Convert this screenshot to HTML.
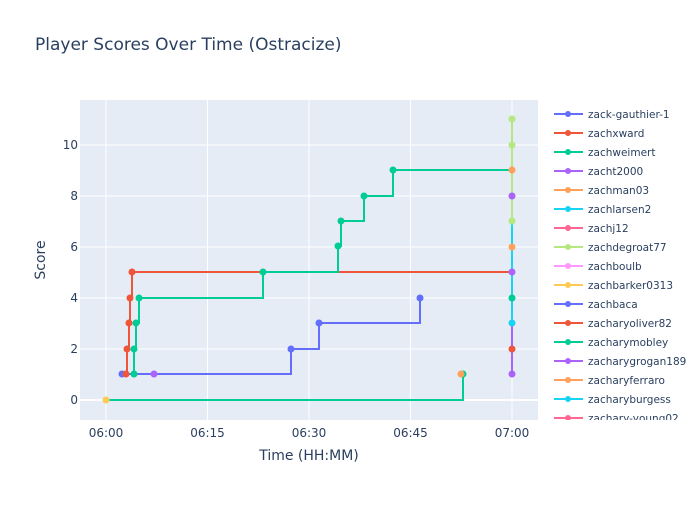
<!DOCTYPE html>
<html><head><meta charset="utf-8"><style>
body{margin:0;background:#fff}
text{font-family:"DejaVu Sans","Liberation Sans",sans-serif;fill:#2a3f5f}
</style></head><body>
<svg width="700" height="500" xmlns="http://www.w3.org/2000/svg">
<rect width="700" height="500" fill="#fff"/>
<rect x="80" y="100" width="458" height="320" fill="#e5ecf6"/>
<g stroke="#fff" stroke-width="1">
<line x1="80" x2="538" y1="400" y2="400" stroke-width="2"/>
<line x1="80" x2="538" y1="349" y2="349"/>
<line x1="80" x2="538" y1="298" y2="298"/>
<line x1="80" x2="538" y1="247" y2="247"/>
<line x1="80" x2="538" y1="196" y2="196"/>
<line x1="80" x2="538" y1="145" y2="145"/>
<line y1="100" y2="420" x1="106" x2="106"/>
<line y1="100" y2="420" x1="207.5" x2="207.5"/>
<line y1="100" y2="420" x1="309" x2="309"/>
<line y1="100" y2="420" x1="410.5" x2="410.5"/>
<line y1="100" y2="420" x1="512" x2="512"/>
</g>
<g font-size="12" text-anchor="end">
<text x="78" y="404">0</text><text x="78" y="353">2</text><text x="78" y="302">4</text>
<text x="78" y="251">6</text><text x="78" y="200">8</text><text x="78" y="149">10</text>
</g>
<g font-size="12" text-anchor="middle">
<text x="106" y="437">06:00</text><text x="207.5" y="437">06:15</text><text x="309" y="437">06:30</text>
<text x="410.5" y="437">06:45</text><text x="512" y="437">07:00</text>
</g>
<text x="309" y="460" font-size="14" text-anchor="middle">Time (HH:MM)</text>
<text x="45" y="260" font-size="14" text-anchor="middle" transform="rotate(-90 45 260)">Score</text>
<text x="35" y="50" font-size="17">Player Scores Over Time (Ostracize)</text>
<g fill="none" stroke-width="2">
<polyline stroke="#00cc96" points="106,400 463,400 463,374"/>
<polyline stroke="#636efa" points="122,374 291,374 291,349 319,349 319,323 420,323 420,298"/>
<polyline stroke="#EF553B" points="126,374 127,374 127,349 129,349 129,323 130,323 130,298 132,298 132,272 512,272"/>
<polyline stroke="#00cc96" points="134,374 134,349 136,349 136,323 139,323 139,298 263,298 263,272 338,272 338,246 341,246 341,221 364,221 364,196 393,196 393,170 512,170"/>
<polyline stroke="#ab63fa" points="512,374 512,272"/>
<polyline stroke="#19d3f3" points="512,323 512,221"/>
<polyline stroke="#B6E880" points="512,221 512,119"/>
</g>
<g>
<circle cx="106" cy="400" r="3.5" fill="#FECB52"/>
<circle cx="122" cy="374" r="3.5" fill="#636efa"/>
<circle cx="126" cy="374" r="3.5" fill="#EF553B"/>
<circle cx="127" cy="349" r="3.5" fill="#EF553B"/>
<circle cx="129" cy="323" r="3.5" fill="#EF553B"/>
<circle cx="130" cy="298" r="3.5" fill="#EF553B"/>
<circle cx="132" cy="272" r="3.5" fill="#EF553B"/>
<circle cx="134" cy="374" r="3.5" fill="#00cc96"/>
<circle cx="134" cy="349" r="3.5" fill="#00cc96"/>
<circle cx="136" cy="323" r="3.5" fill="#00cc96"/>
<circle cx="139" cy="298" r="3.5" fill="#00cc96"/>
<circle cx="154" cy="374" r="3.5" fill="#ab63fa"/>
<circle cx="263" cy="272" r="3.5" fill="#00cc96"/>
<circle cx="338" cy="246" r="3.5" fill="#00cc96"/>
<circle cx="341" cy="221" r="3.5" fill="#00cc96"/>
<circle cx="364" cy="196" r="3.5" fill="#00cc96"/>
<circle cx="393" cy="170" r="3.5" fill="#00cc96"/>
<circle cx="291" cy="349" r="3.5" fill="#636efa"/>
<circle cx="319" cy="323" r="3.5" fill="#636efa"/>
<circle cx="420" cy="298" r="3.5" fill="#636efa"/>
<circle cx="463" cy="374" r="3.5" fill="#00cc96"/>
<circle cx="461" cy="374" r="3.5" fill="#FFA15A"/>
<circle cx="512" cy="374" r="3.5" fill="#ab63fa"/>
<circle cx="512" cy="349" r="3.5" fill="#EF553B"/>
<circle cx="512" cy="323" r="3.5" fill="#19d3f3"/>
<circle cx="512" cy="298" r="3.5" fill="#00cc96"/>
<circle cx="512" cy="272" r="3.5" fill="#ab63fa"/>
<circle cx="512" cy="247" r="3.5" fill="#FFA15A"/>
<circle cx="512" cy="221" r="3.5" fill="#B6E880"/>
<circle cx="512" cy="196" r="3.5" fill="#ab63fa"/>
<circle cx="512" cy="170" r="3.5" fill="#FFA15A"/>
<circle cx="512" cy="145" r="3.5" fill="#B6E880"/>
<circle cx="512" cy="119" r="3.5" fill="#B6E880"/>
</g>
<defs><clipPath id="lg"><rect x="540" y="100" width="160" height="320"/></clipPath></defs>
<g clip-path="url(#lg)" font-size="10.5">
<g stroke-width="2">
<line x1="554" x2="583" y1="114" y2="114" stroke="#636efa"/><circle cx="568" cy="114" r="3" fill="#636efa"/><text x="588" y="118">zack-gauthier-1</text>
<line x1="554" x2="583" y1="133" y2="133" stroke="#EF553B"/><circle cx="568" cy="133" r="3" fill="#EF553B"/><text x="588" y="137">zachxward</text>
<line x1="554" x2="583" y1="152" y2="152" stroke="#00cc96"/><circle cx="568" cy="152" r="3" fill="#00cc96"/><text x="588" y="156">zachweimert</text>
<line x1="554" x2="583" y1="171" y2="171" stroke="#ab63fa"/><circle cx="568" cy="171" r="3" fill="#ab63fa"/><text x="588" y="175">zacht2000</text>
<line x1="554" x2="583" y1="190" y2="190" stroke="#FFA15A"/><circle cx="568" cy="190" r="3" fill="#FFA15A"/><text x="588" y="194">zachman03</text>
<line x1="554" x2="583" y1="209" y2="209" stroke="#19d3f3"/><circle cx="568" cy="209" r="3" fill="#19d3f3"/><text x="588" y="213">zachlarsen2</text>
<line x1="554" x2="583" y1="228" y2="228" stroke="#FF6692"/><circle cx="568" cy="228" r="3" fill="#FF6692"/><text x="588" y="232">zachj12</text>
<line x1="554" x2="583" y1="247" y2="247" stroke="#B6E880"/><circle cx="568" cy="247" r="3" fill="#B6E880"/><text x="588" y="251">zachdegroat77</text>
<line x1="554" x2="583" y1="266" y2="266" stroke="#FF97FF"/><circle cx="568" cy="266" r="3" fill="#FF97FF"/><text x="588" y="270">zachboulb</text>
<line x1="554" x2="583" y1="285" y2="285" stroke="#FECB52"/><circle cx="568" cy="285" r="3" fill="#FECB52"/><text x="588" y="289">zachbarker0313</text>
<line x1="554" x2="583" y1="304" y2="304" stroke="#636efa"/><circle cx="568" cy="304" r="3" fill="#636efa"/><text x="588" y="308">zachbaca</text>
<line x1="554" x2="583" y1="323" y2="323" stroke="#EF553B"/><circle cx="568" cy="323" r="3" fill="#EF553B"/><text x="588" y="327">zacharyoliver82</text>
<line x1="554" x2="583" y1="342" y2="342" stroke="#00cc96"/><circle cx="568" cy="342" r="3" fill="#00cc96"/><text x="588" y="346">zacharymobley</text>
<line x1="554" x2="583" y1="361" y2="361" stroke="#ab63fa"/><circle cx="568" cy="361" r="3" fill="#ab63fa"/><text x="588" y="365">zacharygrogan189</text>
<line x1="554" x2="583" y1="380" y2="380" stroke="#FFA15A"/><circle cx="568" cy="380" r="3" fill="#FFA15A"/><text x="588" y="384">zacharyferraro</text>
<line x1="554" x2="583" y1="399" y2="399" stroke="#19d3f3"/><circle cx="568" cy="399" r="3" fill="#19d3f3"/><text x="588" y="403">zacharyburgess</text>
<line x1="554" x2="583" y1="418" y2="418" stroke="#FF6692"/><circle cx="568" cy="418" r="3" fill="#FF6692"/><text x="588" y="422">zachary-young02</text>
</g>
</g>
</svg>
</body></html>
